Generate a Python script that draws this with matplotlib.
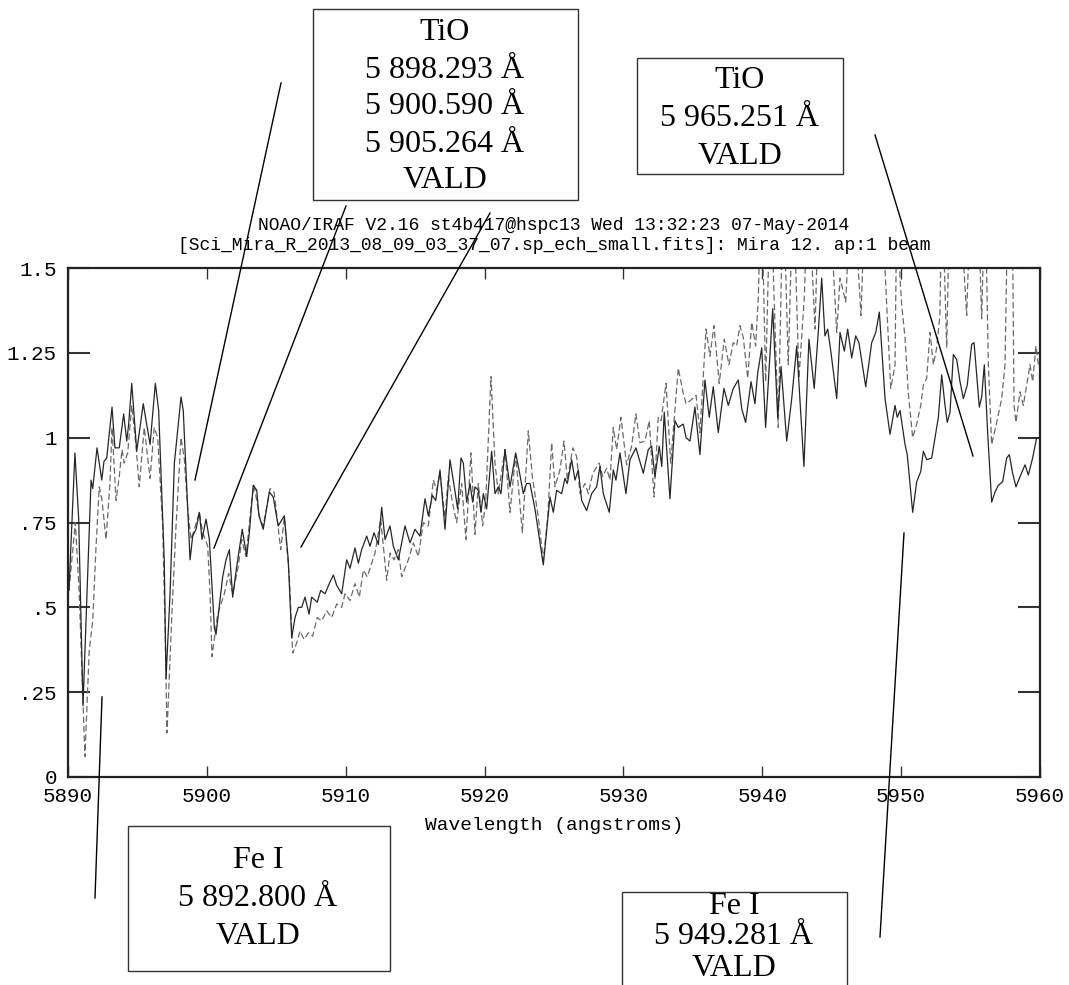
import matplotlib
matplotlib.use("Agg")
import matplotlib.pyplot as plt
from matplotlib.lines import Line2D
from matplotlib.patches import Rectangle

# spectrum 1 (solid)
wl_solid = [5890.07, 5890.50, 5890.77, 5891.08, 5891.66, 5891.78, 5892.09, 5892.43, 5892.59, 5892.79,
            5893.17, 5893.38, 5893.69, 5894.01, 5894.23, 5894.37, 5894.59, 5894.95, 5895.42, 5895.91,
            5896.29, 5896.53, 5896.93, 5897.06, 5897.35, 5897.66, 5898.14, 5898.30, 5898.55, 5898.79,
            5898.98, 5899.22, 5899.46, 5899.65, 5899.94, 5900.18, 5900.54, 5900.66, 5901.14, 5901.38,
            5901.62, 5901.86, 5902.15, 5902.55, 5902.87, 5903.06, 5903.34, 5903.59, 5903.75, 5904.06,
            5904.50, 5904.78, 5905.14, 5905.58, 5905.86, 5906.11, 5906.35, 5906.59, 5906.83, 5907.07,
            5907.36, 5907.55, 5907.95, 5908.20, 5908.51, 5908.87, 5909.11, 5909.35, 5909.71, 5910.07,
            5910.31, 5910.67, 5910.91, 5911.15, 5911.51, 5911.75, 5912.04, 5912.35, 5912.59, 5912.83,
            5913.19, 5913.43, 5913.79, 5914.27, 5914.63, 5914.99, 5915.35, 5915.71, 5915.95, 5916.24,
            5916.48, 5916.79, 5917.15, 5917.51, 5917.82, 5918.06, 5918.30, 5918.47, 5918.71, 5918.95,
            5919.14, 5919.31, 5919.55, 5919.74, 5919.91, 5920.15, 5920.51, 5920.75, 5920.99, 5921.18,
            5921.47, 5921.83, 5922.24, 5922.48, 5922.79, 5923.03, 5923.27, 5923.63, 5924.23, 5924.71,
            5924.95, 5925.19, 5925.55, 5925.79, 5925.96, 5926.27, 5926.51, 5926.75, 5926.99, 5927.35,
            5927.71, 5928.07, 5928.31, 5928.55, 5928.98, 5929.27, 5929.46, 5929.75, 5930.18, 5930.47,
            5930.90, 5931.43, 5931.79, 5932.03, 5932.27, 5932.58, 5932.76, 5932.94, 5933.35, 5933.71,
            5933.95, 5934.31, 5934.51, 5934.79, 5935.15, 5935.51, 5935.87, 5936.18, 5936.47, 5936.83,
            5937.24, 5937.55, 5937.91, 5938.27, 5938.52, 5938.80, 5939.19, 5939.47, 5939.67, 5939.96,
            5940.24, 5940.56, 5940.75, 5941.11, 5941.35, 5941.76, 5942.12, 5942.48, 5943.00, 5943.36,
            5943.74, 5944.03, 5944.28, 5944.51, 5944.71, 5944.95, 5945.36, 5945.60, 5945.91, 5946.15,
            5946.44, 5946.73, 5946.96, 5947.45, 5947.88, 5948.17, 5948.43, 5948.84, 5949.20, 5949.56,
            5949.72, 5949.92, 5950.28, 5950.44, 5950.83, 5951.12, 5951.41, 5951.60, 5951.84, 5952.20,
            5952.44, 5952.68, 5952.92, 5953.16, 5953.32, 5953.52, 5953.76, 5954.00, 5954.24, 5954.48,
            5954.76, 5955.08, 5955.25, 5955.44, 5955.63, 5955.80, 5955.99, 5956.23, 5956.52, 5956.76,
            5957.00, 5957.31, 5957.60, 5957.79, 5958.03, 5958.27, 5958.61, 5958.92, 5959.16, 5959.47,
            5959.76, 5960.00]
flux_solid = [0.55, 0.955, 0.76, 0.21, 0.875, 0.85, 0.97, 0.875, 0.93, 0.94,
              1.09, 0.97, 0.97, 1.07, 0.99, 1.04, 1.16, 0.96, 1.10, 0.98,
              1.16, 1.08, 0.64, 0.29, 0.54, 0.925, 1.12, 1.08, 0.855, 0.64,
              0.71, 0.73, 0.78, 0.70, 0.76, 0.70, 0.44, 0.42, 0.59, 0.64,
              0.67, 0.53, 0.62, 0.73, 0.65, 0.72, 0.86, 0.845, 0.77, 0.73,
              0.84, 0.825, 0.74, 0.77, 0.64, 0.41, 0.47, 0.50, 0.50, 0.53,
              0.48, 0.53, 0.515, 0.55, 0.54, 0.575, 0.595, 0.565, 0.54, 0.64,
              0.615, 0.675, 0.63, 0.67, 0.71, 0.68, 0.72, 0.685, 0.795, 0.70,
              0.74, 0.68, 0.64, 0.74, 0.69, 0.73, 0.71, 0.82, 0.77, 0.83,
              0.815, 0.905, 0.73, 0.935, 0.855, 0.79, 0.94, 0.925, 0.81, 0.865,
              0.81, 0.855, 0.845, 0.78, 0.835, 0.79, 0.96, 0.835, 0.855, 0.835,
              0.965, 0.855, 0.955, 0.905, 0.835, 0.865, 0.865, 0.79, 0.625, 0.825,
              0.78, 0.845, 0.835, 0.88, 0.865, 0.935, 0.875, 0.905, 0.815, 0.785,
              0.835, 0.855, 0.915, 0.835, 0.78, 0.905, 0.875, 0.955, 0.835, 0.935,
              0.97, 0.895, 0.965, 0.975, 0.885, 0.975, 0.915, 1.075, 0.82, 1.05,
              1.03, 1.04, 1.0, 0.99, 1.09, 0.95, 1.17, 1.06, 1.15, 1.015,
              1.145, 1.095, 1.145, 1.17, 1.085, 1.045, 1.165, 1.10, 1.19, 1.265,
              1.03, 1.25, 1.38, 1.06, 1.21, 0.99, 1.115, 1.27, 0.915, 1.29,
              1.145, 1.31, 1.47, 1.30, 1.32, 1.25, 1.115, 1.31, 1.255, 1.32,
              1.235, 1.30, 1.28, 1.15, 1.28, 1.31, 1.37, 1.115, 1.01, 1.095,
              1.06, 1.08, 0.98, 0.95, 0.78, 0.87, 0.90, 0.96, 0.935, 0.94,
              1.0, 1.06, 1.185, 1.095, 1.045, 1.075, 1.245, 1.23, 1.165, 1.115,
              1.155, 1.275, 1.28, 1.185, 1.09, 1.12, 1.215, 1.015, 0.81, 0.84,
              0.86, 0.87, 0.94, 0.95, 0.895, 0.855, 0.89, 0.92, 0.89, 0.94,
              1.0, 1.0]

# spectrum 2 (dashed)
wl_dashed = [5890.07, 5890.53, 5890.81, 5891.22, 5891.53, 5891.78, 5892.02, 5892.25, 5892.45, 5892.74,
             5893.02, 5893.17, 5893.46, 5893.69, 5893.89, 5894.05, 5894.30, 5894.59, 5894.90, 5895.13,
             5895.49, 5895.91, 5896.21, 5896.46, 5896.82, 5896.99, 5897.13, 5897.49, 5897.78, 5898.14,
             5898.38, 5898.62, 5898.86, 5899.10, 5899.46, 5899.70, 5900.06, 5900.23, 5900.37, 5900.78,
             5901.26, 5901.57, 5901.86, 5902.26, 5902.51, 5902.82, 5903.23, 5903.39, 5903.83, 5904.06,
             5904.55, 5904.84, 5905.32, 5905.58, 5905.94, 5906.18, 5906.47, 5906.71, 5907.00, 5907.31,
             5907.62, 5907.95, 5908.27, 5908.63, 5908.99, 5909.35, 5909.71, 5909.95, 5910.31, 5910.67,
             5910.98, 5911.27, 5911.55, 5911.87, 5912.11, 5912.52, 5912.95, 5913.19, 5913.48, 5913.79,
             5914.03, 5914.51, 5914.87, 5915.23, 5915.59, 5915.95, 5916.31, 5916.55, 5916.79, 5917.15,
             5917.39, 5917.68, 5917.99, 5918.35, 5918.66, 5919.02, 5919.31, 5919.55, 5919.86, 5920.08,
             5920.46, 5920.75, 5920.99, 5921.47, 5921.83, 5922.24, 5922.72, 5923.15, 5923.44, 5923.87,
             5924.23, 5924.55, 5924.83, 5925.07, 5925.43, 5925.72, 5925.96, 5926.35, 5926.63, 5926.87,
             5927.23, 5927.47, 5927.79, 5928.26, 5928.51, 5928.79, 5929.03, 5929.27, 5929.51, 5929.82,
             5930.23, 5930.59, 5930.90, 5931.19, 5931.55, 5931.86, 5932.20, 5932.51, 5932.71, 5933.07,
             5933.40, 5933.95, 5934.31, 5934.51, 5934.84, 5935.23, 5935.51, 5935.95, 5936.23, 5936.52,
             5936.90, 5937.26, 5937.60, 5937.91, 5938.15, 5938.39, 5938.63, 5938.95, 5939.24, 5939.52,
             5939.71, 5939.94, 5940.24, 5940.59, 5941.15, 5941.51, 5941.87, 5942.23, 5942.64, 5943.02,
             5943.31, 5943.80, 5944.08, 5944.73, 5945.36, 5945.60, 5946.01, 5946.46, 5947.11, 5947.47,
             5948.48, 5949.25, 5949.56, 5949.70, 5949.92, 5950.04, 5950.28, 5950.51, 5950.83, 5951.12,
             5951.41, 5951.60, 5951.84, 5952.08, 5952.32, 5952.56, 5952.79, 5952.94, 5953.28, 5953.52,
             5954.09, 5954.72, 5955.03, 5955.46, 5955.80, 5956.04, 5956.28, 5956.52, 5956.88, 5957.24,
             5957.48, 5957.70, 5957.99, 5958.13, 5958.27, 5958.56, 5958.80, 5959.08, 5959.28, 5959.47,
             5959.71, 5959.88]
flux_dashed = [0.55, 0.75, 0.54, 0.06, 0.375, 0.46, 0.68, 0.855, 0.815, 0.70,
               0.865, 1.03, 0.815, 0.885, 0.965, 0.925, 0.955, 1.095, 0.975, 0.855,
               1.03, 0.88, 1.03, 1.0, 0.74, 0.44, 0.13, 0.49, 0.74, 1.0,
               0.935, 0.79, 0.70, 0.73, 0.78, 0.72, 0.68, 0.54, 0.355, 0.48,
               0.54, 0.60, 0.54, 0.62, 0.70, 0.65, 0.815, 0.86, 0.76, 0.74,
               0.85, 0.84, 0.67, 0.765, 0.59, 0.365, 0.395, 0.43, 0.405, 0.425,
               0.415, 0.47, 0.46, 0.49, 0.47, 0.51, 0.50, 0.54, 0.52, 0.57,
               0.53, 0.61, 0.59, 0.63, 0.66, 0.76, 0.58, 0.66, 0.64, 0.67,
               0.59, 0.64, 0.69, 0.65, 0.75, 0.74, 0.875, 0.845, 0.895, 0.765,
               0.885, 0.81, 0.75, 0.865, 0.70, 0.955, 0.715, 0.865, 0.74, 0.81,
               1.18, 0.925, 0.835, 0.965, 0.78, 0.95, 0.72, 1.02, 0.885, 0.765,
               0.64, 0.765, 0.985, 0.855, 0.905, 0.99, 0.875, 0.97, 0.945, 0.835,
               0.865, 0.835, 0.895, 0.925, 0.885, 0.91, 0.875, 1.03, 0.965, 1.06,
               0.92, 0.975, 1.07, 0.985, 0.99, 1.05, 0.825, 1.06, 1.05, 1.16,
               0.925, 1.205, 1.13, 1.10, 1.11, 1.125, 1.015, 1.32, 1.24, 1.33,
               1.16, 1.29, 1.215, 1.28, 1.27, 1.33, 1.295, 1.175, 1.34, 1.27,
               1.41, 1.75, 1.165, 1.75, 1.03, 1.75, 1.215, 1.75, 1.175, 1.41,
               1.75, 1.32, 1.75, 1.8, 1.31, 1.47, 1.40, 1.8, 1.36, 1.8,
               1.8, 1.145, 1.215, 1.75, 1.47, 1.39, 1.295, 1.135, 1.0, 1.04,
               1.095, 1.155, 1.175, 1.31, 1.215, 1.265, 1.36, 1.75, 1.265, 1.75,
               1.8, 1.36, 1.75, 1.8, 1.35, 1.75, 1.215, 0.98, 1.045, 1.115,
               1.215, 1.75, 1.75, 1.095, 1.045, 1.135, 1.095, 1.165, 1.215, 1.165,
               1.27, 1.215]

x_ticks = [5890, 5900, 5910, 5920, 5930, 5940, 5950, 5960]
y_ticks = [0, 0.25, 0.5, 0.75, 1.0, 1.25, 1.5]
y_ticklabels = ["0", ".25", ".5", ".75", "1", "1.25", "1.5"]

title_lines = ["NOAO/IRAF V2.16 st4b417@hspc13 Wed 13:32:23 07-May-2014",
               "[Sci_Mira_R_2013_08_09_03_37_07.sp_ech_small.fits]: Mira 12. ap:1 beam"]

# annotation boxes: text lines, box (left, top, right, bottom) in pixels, text centre x, first line y, step
boxes = [
    (["TiO", "5 898.293 Å", "5 900.590 Å", "5 905.264 Å", "VALD"], (313, 9, 578, 200), 445, 33, 37),
    (["TiO", "5 965.251 Å", "VALD"], (637, 58, 843, 174), 740, 81, 38),
    (["Fe I", "5 892.800 Å", "VALD"], (128, 826, 390, 971), 258, 860, 38),
    (["Fe I", "5 949.281 Å", "VALD"], (622, 892, 847, 1000), 734, 906, 31),
]
# leader lines in pixels
leaders = [((281, 83), (195, 480)), ((346, 206), (214, 548)), ((490, 213), (301, 547)),
           ((875, 135), (973, 456)), ((95, 898), (102, 697)), ((880, 937), (904, 533))]

W, H = 1069, 985
mono = "Liberation Mono"
serif = "Liberation Serif"

fig = plt.figure(figsize=(W / 100, H / 100), dpi=100)
ax = fig.add_axes([68 / W, 1 - 777 / H, 972 / W, 509 / H])

ax.plot(wl_dashed, flux_dashed, color="#6a6a6a", lw=0.9, linestyle=(0, (5, 2.5)))
ax.plot(wl_solid, flux_solid, color="#262626", lw=0.9)

ax.set_xlim(5890, 5960)
ax.set_ylim(0, 1.5)
ax.set_xticks(x_ticks)
ax.set_xticklabels([str(t) for t in x_ticks], fontfamily=mono, fontsize=15)
ax.set_yticks(y_ticks)
ax.set_yticklabels(y_ticklabels, fontfamily=mono, fontsize=15)
ax.tick_params(axis="x", direction="in", length=8, width=1, top=True, pad=7, color="#333333")
ax.tick_params(axis="y", direction="in", length=16, width=1.5, right=True, pad=8, color="#333333")
for s in ax.spines.values():
    s.set_linewidth(1.6)
    s.set_color("#222222")
ax.set_xlabel("Wavelength (angstroms)", fontfamily=mono, fontsize=14, labelpad=8)

fig.text(554 / W, 1 - 226 / H, title_lines[0], fontfamily=mono, fontsize=13,
         ha="center", va="center")
fig.text(554 / W, 1 - 246 / H, title_lines[1], fontfamily=mono, fontsize=13,
         ha="center", va="center")

for lines, (l, t, r, b), cx, y0, step in boxes:
    fig.add_artist(Rectangle((l / W, 1 - b / H), (r - l) / W, (b - t) / H,
                             transform=fig.transFigure, fill=False,
                             edgecolor="#333333", lw=1))
    for i, s in enumerate(lines):
        fig.text(cx / W, 1 - (y0 + i * step) / H, s, fontfamily=serif, fontsize=23,
                 ha="center", va="center")

for (x0, y0), (x1, y1) in leaders:
    fig.add_artist(Line2D([x0 / W, x1 / W], [1 - y0 / H, 1 - y1 / H],
                          transform=fig.transFigure, color="black", lw=1))

fig.savefig("out.png", dpi=100)
